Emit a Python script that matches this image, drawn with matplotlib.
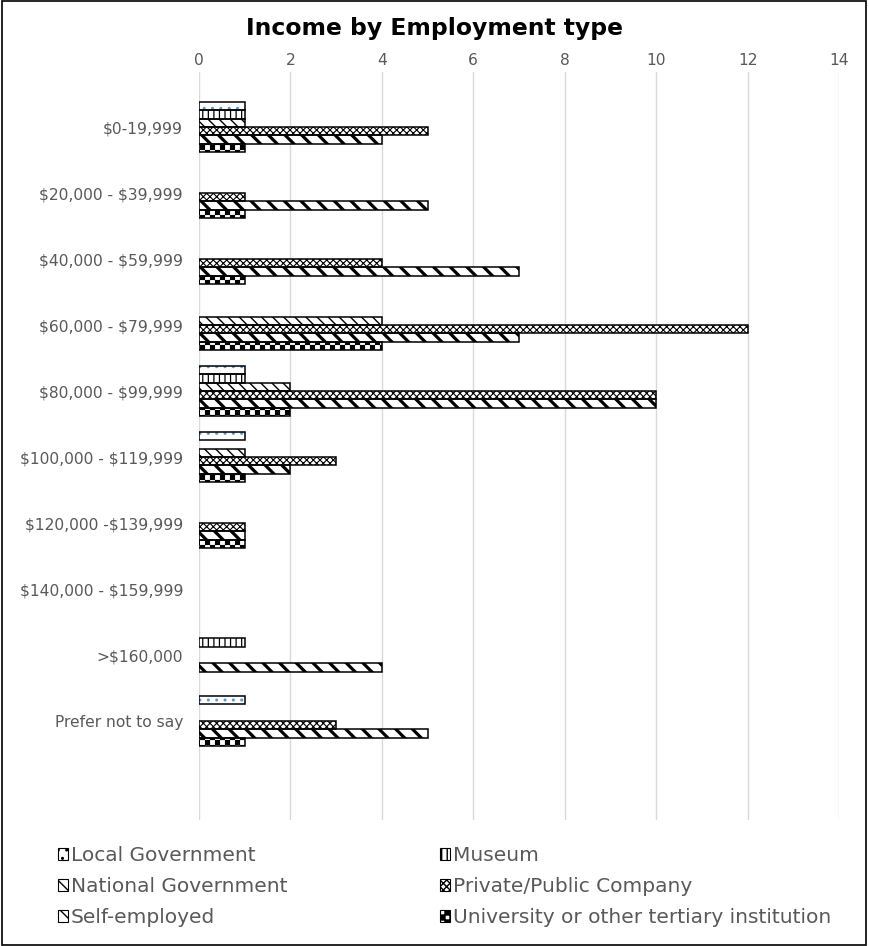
import warnings
import numpy as np
import matplotlib
matplotlib.use("Agg")
import matplotlib.pyplot as plt
from matplotlib import hatch as mhatch
from matplotlib.path import Path
from matplotlib.patches import Patch, Rectangle

warnings.filterwarnings("ignore")
plt.rcParams["text.parse_math"] = False
plt.rcParams["font.family"] = ["DejaVu Sans"]

# ---- data -------------------------------------------------------------
categories = ["$0-19,999", "$20,000 - $39,999", "$40,000 - $59,999",
              "$60,000 - $79,999", "$80,000 - $99,999", "$100,000 - $119,999",
              "$120,000 -$139,999", "$140,000 - $159,999", ">$160,000",
              "Prefer not to say", ""]

series_names = ["Local Government", "Museum", "National Government",
                "Private/Public Company", "Self-employed",
                "University or other tertiary institution"]

local_gov    = [1, 0, 0, 0, 1, 1, 0, 0, 0, 1, 0]
museum       = [1, 0, 0, 0, 1, 0, 0, 0, 1, 0, 0]
national_gov = [1, 0, 0, 4, 2, 1, 0, 0, 0, 0, 0]
private_co   = [5, 1, 4, 12, 10, 3, 1, 0, 0, 3, 0]
self_emp     = [4, 5, 7, 7, 10, 2, 1, 0, 4, 5, 0]
university   = [1, 1, 1, 4, 2, 1, 1, 0, 0, 1, 0]

x_ticks = [0, 2, 4, 6, 8, 10, 12, 14]


# ---- a checkerboard hatch ("c") ---------------------------------------
class CheckerHatch(mhatch.HatchPatternBase):
    cells = 20

    def __init__(self, hatch, density):
        self.on = hatch is not None and "c" in hatch
        n = self.cells
        self.num_vertices = (n * n // 2) * 5 if self.on else 0

    def set_vertices_and_codes(self, vertices, codes):
        n = self.cells
        s = 1.0 / n
        verts, cods = [], []
        for i in range(n):
            for j in range(n):
                if (i + j) % 2 == 0:
                    x0, y0 = i * s, j * s
                    verts += [[x0, y0], [x0 + s, y0], [x0 + s, y0 + s],
                              [x0, y0 + s], [x0, y0]]
                    cods += [Path.MOVETO, Path.LINETO, Path.LINETO,
                             Path.LINETO, Path.CLOSEPOLY]
        vertices[:] = np.array(verts)
        codes[:] = np.array(cods, dtype=Path.code_type)


mhatch._hatch_types.append(CheckerHatch)

BS = chr(92)  # backslash: downward diagonal hatch

# pattern, hatch colour, hatch line width for each series
styles = [
    ("..",      "#5b9bd5", 1.0),
    ("|||",     "black",   0.9),
    (BS * 3,    "black",   1.0),
    ("xxxxx",   "black",   0.8),
    (BS * 2,    "black",   2.3),
    ("c",       "black",   0.1),
]

values = [local_gov, museum, national_gov, private_co, self_emp, university]

W, H = 869, 946
fig = plt.figure(figsize=(W / 100, H / 100), dpi=100)

ax_top, ax_bot = 72, 820
ax = fig.add_axes([199 / W, 1 - ax_bot / H, (839 - 199) / W,
                   (ax_bot - ax_top) / H])

n_cat = len(categories)
y = np.arange(n_cat)
bar_h = 0.128
n_ser = len(values)
offsets = (np.arange(n_ser) - (n_ser - 1) / 2) * bar_h


def set_hlw(patch, lw):
    if hasattr(patch, "set_hatch_linewidth"):
        patch.set_hatch_linewidth(lw)
    else:
        patch._hatch_linewidth = lw


for k, (vals, (hatch, hcol, hlw)) in enumerate(zip(values, styles)):
    vals = np.asarray(vals, dtype=float)
    pos = y + offsets[k]
    with plt.rc_context({"hatch.linewidth": hlw}):
        fills = ax.barh(pos, vals, height=bar_h, color="white",
                        edgecolor=hcol, hatch=hatch, linewidth=0, zorder=2)
    for p in fills:
        set_hlw(p, hlw)
    lws = [1.1 if v > 0 else 0 for v in vals]
    ax.barh(pos, vals, height=bar_h, fill=False, edgecolor="black",
            linewidth=lws, zorder=3)

ax.set_xlim(0, 14)
# one category band per row, plus a little head-room above the first row
band_px = (ax_bot - ax_top) / (n_cat + (94 - ax_top) / 66)
ax.set_ylim(n_cat - 0.5, -0.5 - (94 - ax_top) / band_px)
ax.set_xticks(x_ticks)
ax.set_yticks(y)
ax.set_yticklabels(categories)
ax.xaxis.tick_top()
ax.tick_params(axis="both", length=0, labelsize=11.2, colors="#595959")
ax.tick_params(axis="x", pad=3)
ax.tick_params(axis="y", pad=11.5)
ax.grid(axis="x", color="#d9d9d9", linewidth=1.0, zorder=0)
ax.set_axisbelow(True)
for s in ax.spines.values():
    s.set_visible(False)

fig.text(0.5, 1 - 29 / H, "Income by Employment type", ha="center",
         va="center", fontsize=16.9, fontweight="bold", color="black")

handles = []
for (hatch, hcol, hlw), name in zip(styles, series_names):
    h = Patch(facecolor="white", edgecolor="black", hatch=hatch,
              linewidth=0.8, label=name)
    set_hlw(h, min(hlw, 1.4))
    handles.append(h)

# legend reads row by row: two entries per row
order = [0, 2, 4, 1, 3, 5]
leg = fig.legend(handles=[handles[i] for i in order], ncol=2,
                 loc="upper left", bbox_to_anchor=(50 / W, 1 - 838 / H),
                 frameon=False, fontsize=14.5, handlelength=0.48,
                 handleheight=0.48, handletextpad=0.15, columnspacing=7.6,
                 labelspacing=0.6, borderaxespad=0)
for t in leg.get_texts():
    t.set_color("#595959")

fig.patches.append(Rectangle((1.5 / W, 1.5 / H), 1 - 4.5 / W, 1 - 3 / H,
                             transform=fig.transFigure, fill=False,
                             edgecolor="black", linewidth=1.2))

fig.savefig("out.png", dpi=100, facecolor="white")
